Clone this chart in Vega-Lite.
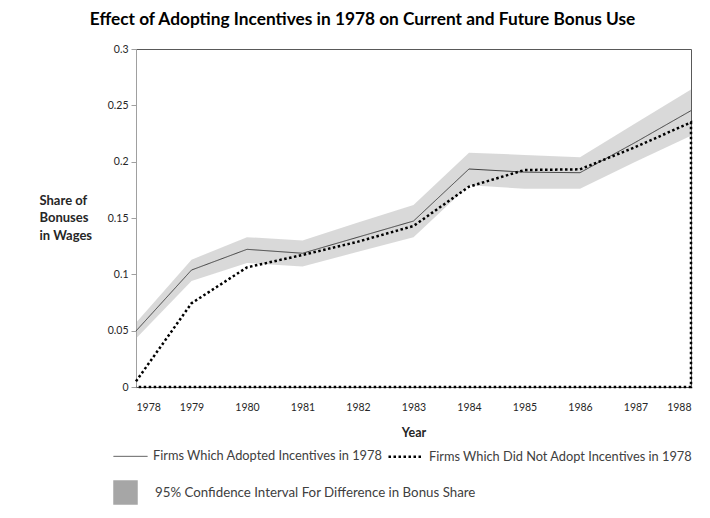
{
  "$schema": "https://vega.github.io/schema/vega-lite/v6.json",
  "width": 555,
  "height": 338,
  "autosize": "none",
  "padding": {"left": 136, "top": 49, "right": 19, "bottom": 131},
  "background": "white",
  "config": {
    "font": "Lato",
    "view": {"stroke": "#595959", "strokeWidth": 1}
  },
  "title": {
    "text": "Effect of Adopting Incentives in 1978 on Current and Future Bonus Use",
    "font": "Lato",
    "fontSize": 17.3,
    "fontWeight": "bold",
    "color": "#000000",
    "anchor": "middle",
    "frame": "group",
    "dx": -51,
    "offset": 16
  },
  "datasets": {
    "band": [
      {"year": 1978, "lo": 0.043, "hi": 0.057, "ci": "95% Confidence Interval For Difference in Bonus Share"},
      {"year": 1979, "lo": 0.094, "hi": 0.113, "ci": "95% Confidence Interval For Difference in Bonus Share"},
      {"year": 1980, "lo": 0.110, "hi": 0.133, "ci": "95% Confidence Interval For Difference in Bonus Share"},
      {"year": 1981, "lo": 0.107, "hi": 0.130, "ci": "95% Confidence Interval For Difference in Bonus Share"},
      {"year": 1982, "lo": 0.120, "hi": 0.146, "ci": "95% Confidence Interval For Difference in Bonus Share"},
      {"year": 1983, "lo": 0.133, "hi": 0.1615, "ci": "95% Confidence Interval For Difference in Bonus Share"},
      {"year": 1984, "lo": 0.179, "hi": 0.208, "ci": "95% Confidence Interval For Difference in Bonus Share"},
      {"year": 1985, "lo": 0.176, "hi": 0.206, "ci": "95% Confidence Interval For Difference in Bonus Share"},
      {"year": 1986, "lo": 0.176, "hi": 0.204, "ci": "95% Confidence Interval For Difference in Bonus Share"},
      {"year": 1987, "lo": 0.200, "hi": 0.234, "ci": "95% Confidence Interval For Difference in Bonus Share"},
      {"year": 1988, "lo": 0.223, "hi": 0.264, "ci": "95% Confidence Interval For Difference in Bonus Share"}
    ],
    "lines": [
      {"series": "Firms Which Adopted Incentives in 1978", "year": 1978, "value": 0.0497, "ord": 1},
      {"series": "Firms Which Adopted Incentives in 1978", "year": 1979, "value": 0.1038, "ord": 2},
      {"series": "Firms Which Adopted Incentives in 1978", "year": 1980, "value": 0.1222, "ord": 3},
      {"series": "Firms Which Adopted Incentives in 1978", "year": 1981, "value": 0.1187, "ord": 4},
      {"series": "Firms Which Adopted Incentives in 1978", "year": 1982, "value": 0.133, "ord": 5},
      {"series": "Firms Which Adopted Incentives in 1978", "year": 1983, "value": 0.1473, "ord": 6},
      {"series": "Firms Which Adopted Incentives in 1978", "year": 1984, "value": 0.1935, "ord": 7},
      {"series": "Firms Which Adopted Incentives in 1978", "year": 1985, "value": 0.1907, "ord": 8},
      {"series": "Firms Which Adopted Incentives in 1978", "year": 1986, "value": 0.1902, "ord": 9},
      {"series": "Firms Which Adopted Incentives in 1978", "year": 1987, "value": 0.2172, "ord": 10},
      {"series": "Firms Which Adopted Incentives in 1978", "year": 1988, "value": 0.2453, "ord": 11},
      {"series": "Firms Which Did Not Adopt Incentives in 1978", "year": 1978, "value": 0.005, "ord": 1},
      {"series": "Firms Which Did Not Adopt Incentives in 1978", "year": 1979, "value": 0.0743, "ord": 2},
      {"series": "Firms Which Did Not Adopt Incentives in 1978", "year": 1980, "value": 0.1062, "ord": 3},
      {"series": "Firms Which Did Not Adopt Incentives in 1978", "year": 1981, "value": 0.1172, "ord": 4},
      {"series": "Firms Which Did Not Adopt Incentives in 1978", "year": 1982, "value": 0.129, "ord": 5},
      {"series": "Firms Which Did Not Adopt Incentives in 1978", "year": 1983, "value": 0.1429, "ord": 6},
      {"series": "Firms Which Did Not Adopt Incentives in 1978", "year": 1984, "value": 0.1778, "ord": 7},
      {"series": "Firms Which Did Not Adopt Incentives in 1978", "year": 1985, "value": 0.1926, "ord": 8},
      {"series": "Firms Which Did Not Adopt Incentives in 1978", "year": 1986, "value": 0.1932, "ord": 9},
      {"series": "Firms Which Did Not Adopt Incentives in 1978", "year": 1987, "value": 0.213, "ord": 10},
      {"series": "Firms Which Did Not Adopt Incentives in 1978", "year": 1988, "value": 0.2349, "ord": 11},
      {"series": "Firms Which Did Not Adopt Incentives in 1978", "year": 1988, "value": 0, "ord": 12},
      {"series": "Firms Which Did Not Adopt Incentives in 1978", "year": 1978, "value": 0, "ord": 13}
    ]
  },
  "layer": [
    {
      "data": {"name": "band"},
      "mark": {"type": "area", "opacity": 0.43},
      "encoding": {
        "x": {
          "field": "year", "type": "quantitative",
          "scale": {"domain": [1978, 1988], "nice": false, "zero": false},
          "axis": {
            "values": [1978, 1979, 1980, 1981, 1982, 1983, 1984, 1985, 1986, 1987, 1988],
            "format": "d",
            "title": "Year",
            "titleFont": "Lato", "titleFontSize": 12.5, "titleFontWeight": "bold", "titleColor": "#262626",
            "titleBaseline": "top", "titleY": 39,
            "labelFont": "Lato", "labelFontSize": 10.5, "labelColor": "#262626",
            "ticks": false, "tickSize": 0, "labelPadding": 15,
            "domain": false, "grid": false
          }
        },
        "y": {
          "field": "lo", "type": "quantitative",
          "scale": {"domain": [0, 0.3], "nice": false},
          "axis": {
            "values": [0, 0.05, 0.1, 0.15, 0.2, 0.25, 0.3],
            "format": ".2~f",
            "title": ["Share of", "Bonuses", "in Wages"],
            "titleFont": "Lato", "titleFontSize": 13, "titleFontWeight": "bold", "titleColor": "#262626",
            "titleAngle": 0, "titleAlign": "left", "titleBaseline": "top",
            "titleX": -97, "titleY": 145, "titleLineHeight": 17.5,
            "labelFont": "Lato", "labelFontSize": 10.5, "labelColor": "#262626",
            "tickSize": 5, "tickColor": "#a0a0a0", "labelPadding": 3,
            "domainColor": "#a0a0a0", "grid": false
          }
        },
        "y2": {"field": "hi"},
        "fill": {
          "field": "ci", "type": "nominal",
          "scale": {"range": ["#a6a6a6"]},
          "legend": {
            "title": null, "orient": "none", "legendX": -23, "legendY": 431,
            "symbolType": "square", "symbolSize": 600, "symbolStrokeWidth": 0, "symbolOpacity": 1,
            "labelOffset": 17, "labelLimit": 500, "labelFont": "Lato", "labelFontSize": 13.3, "labelColor": "#404040"
          }
        }
      }
    },
    {
      "data": {"name": "lines"},
      "mark": {"type": "line", "clip": false, "strokeCap": "butt"},
      "encoding": {
        "x": {"field": "year", "type": "quantitative"},
        "y": {"field": "value", "type": "quantitative"},
        "order": {"field": "ord", "type": "quantitative"},
        "stroke": {
          "field": "series", "type": "ordinal",
          "scale": {"domain": ["Firms Which Adopted Incentives in 1978", "Firms Which Did Not Adopt Incentives in 1978"], "range": ["#404040", "#000000"]},
          "legend": {
            "title": null, "orient": "none", "legendX": -23, "legendY": 389, "direction": "horizontal",
            "symbolType": "stroke", "symbolSize": 1156, "labelOffset": 5, "columnPadding": 0, "labelLimit": 500,
            "labelFont": "Lato", "labelFontSize": 12.8, "labelColor": "#404040"
          }
        },
        "strokeDash": {
          "field": "series", "type": "ordinal",
          "scale": {"domain": ["Firms Which Adopted Incentives in 1978", "Firms Which Did Not Adopt Incentives in 1978"], "range": [[1, 0], [2.5, 2.5]]},
          "legend": {
            "title": null, "orient": "none", "legendX": -23, "legendY": 389, "direction": "horizontal",
            "symbolType": "stroke", "symbolSize": 1156, "labelOffset": 5, "columnPadding": 0, "labelLimit": 500,
            "labelFont": "Lato", "labelFontSize": 12.8, "labelColor": "#404040"
          }
        },
        "strokeWidth": {
          "field": "series", "type": "ordinal",
          "scale": {"domain": ["Firms Which Adopted Incentives in 1978", "Firms Which Did Not Adopt Incentives in 1978"], "range": [1, 2.5]},
          "legend": {
            "title": null, "orient": "none", "legendX": -23, "legendY": 389, "direction": "horizontal",
            "symbolType": "stroke", "symbolSize": 1156, "labelOffset": 5, "columnPadding": 0, "labelLimit": 500,
            "labelFont": "Lato", "labelFontSize": 12.8, "labelColor": "#404040"
          }
        }
      }
    }
  ]
}
